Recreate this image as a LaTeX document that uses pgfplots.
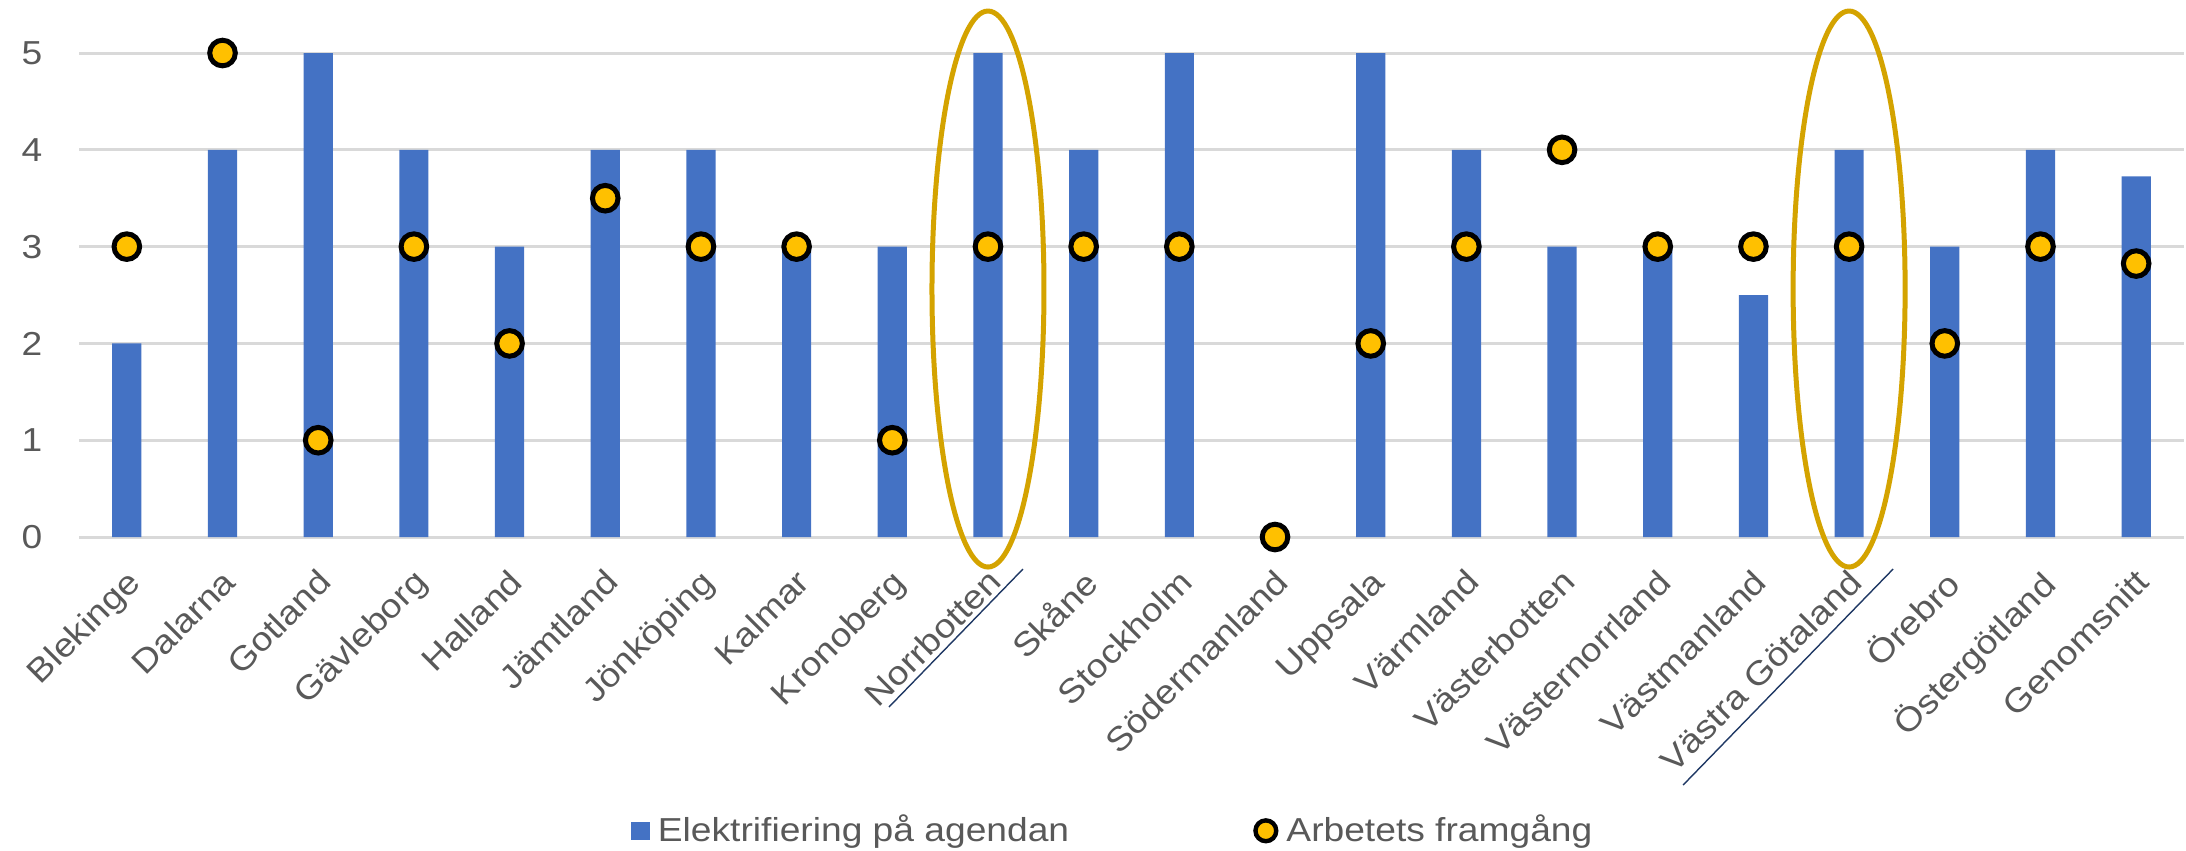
\documentclass[border=0pt]{standalone}
\usepackage{pgfplots}
\pgfplotsset{compat=1.18}
\usepackage{fontspec}
\setmainfont{Liberation Sans}[FakeStretch=1.12]

\definecolor{barblue}{HTML}{4472C4}
\definecolor{dotyellow}{HTML}{FFC000}
\definecolor{ringgold}{HTML}{D4A300}
\definecolor{labelgray}{HTML}{595959}
\definecolor{gridgray}{HTML}{D9D9D9}
\definecolor{navyline}{HTML}{1F3864}

\begin{document}
\begin{tikzpicture}
\useasboundingbox (-19.75pt,-78.25pt) rectangle (526.75pt,134.25pt);
\begin{axis}[
  at={(0,0)}, anchor=south west,
  scale only axis,
  width=526.25pt, height=121pt,
  xmin=-0.5, xmax=21.5,
  ymin=0, ymax=5,
  clip=false,
  axis line style={draw=none},
  major tick length=0pt,
  ymajorgrids,
  grid style={line width=0.75pt, gridgray},
  ytick={0,1,2,3,4,5},
  xtick={0,...,21},
  xticklabels={Blekinge, Dalarna, Gotland, Gävleborg, Halland, Jämtland,
    Jönköping, Kalmar, Kronoberg, Norrbotten, Skåne, Stockholm,
    Södermanland, Uppsala, Värmland, Västerbotten, Västernorrland,
    Västmanland, Västra Götaland, Örebro, Östergötland, Genomsnitt},
  /pgf/number format/assume math mode=true,
  tick label style={font=\fontsize{8.3}{9.5}\selectfont, text=labelgray},
  yticklabel style={inner sep=0pt, anchor=east, xshift=-9pt},
  xticklabel style={xshift=-0.5pt, yshift=-7.3pt, rotate=45, anchor=north east, inner sep=0pt},
  legend style={
    at={(0.4926,-0.607)}, anchor=center, draw=none, fill=none,
    font=\fontsize{8.3}{9.5}\selectfont, text=labelgray,
    legend columns=-1,
    /tikz/every even column/.append style={column sep=44pt},
    inner sep=0pt,
  },
  legend cell align=left,
]
% Elektrifiering på agendan
\addplot[ybar, bar width=7.3pt, bar shift=0pt, fill=barblue, draw=none,
  legend image code/.code={\fill[barblue] (0pt,-2.3pt) rectangle (4.6pt,2.3pt);}]
  coordinates {
  (0,2) (1,4) (2,5) (3,4) (4,3) (5,4) (6,4) (7,3) (8,3) (9,5) (10,4)
  (11,5) (12,0) (13,5) (14,4) (15,3) (16,3) (17,2.5) (18,4) (19,3)
  (20,4) (21,3.725)
};
\addlegendentry{Elektrifiering på agendan}
% Arbetets framgång
\addplot[only marks, mark=*, mark size=3.2pt,
  mark options={fill=dotyellow, draw=black, line width=1.25pt},
  legend image code/.code={\draw[fill=dotyellow, draw=black, line width=1.1pt] (2.8pt,0pt) circle (2.6pt);}]
  coordinates {
  (0,3) (1,5) (2,1) (3,3) (4,2) (5,3.5) (6,3) (7,3) (8,1) (9,3) (10,3)
  (11,3) (12,0) (13,2) (14,3) (15,4) (16,3) (17,3) (18,3) (19,2)
  (20,3) (21,2.825)
};
\addlegendentry{Arbetets framgång}
% highlight rings
\draw[ringgold, line width=1.25pt] (axis cs:9,2.562) ellipse [x radius=14pt, y radius=69.5pt];
\draw[ringgold, line width=1.25pt] (axis cs:18,2.562) ellipse [x radius=14pt, y radius=69.5pt];
% underlines beside the rotated labels
\draw[navyline, line width=0.35pt] ([shift={(8.75pt,-8pt)}]axis cs:9,0) -- ++(-33.5pt,-34.5pt);
\draw[navyline, line width=0.35pt] ([shift={(11pt,-8pt)}]axis cs:18,0) -- ++(-52.5pt,-54pt);
\end{axis}
\end{tikzpicture}
\end{document}
